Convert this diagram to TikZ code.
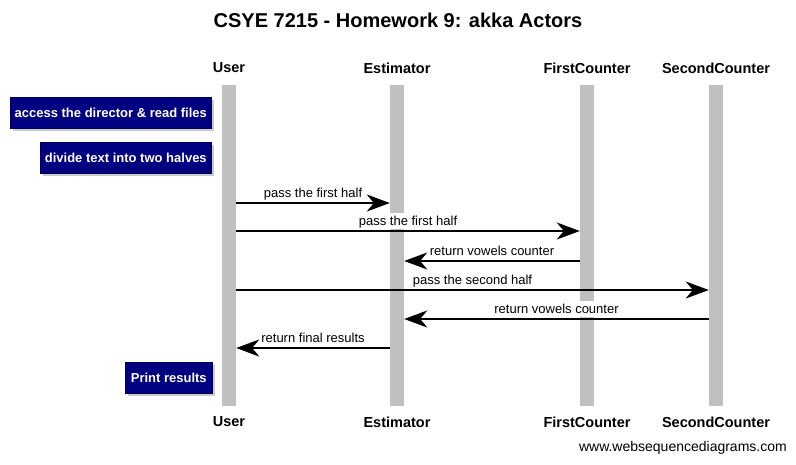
\documentclass[tikz,border=0pt]{standalone}
\usepackage{fontspec}
\setmainfont{Liberation Sans}
\usetikzlibrary{arrows.meta,shadows,calc}
\definecolor{lifegray}{HTML}{C0C0C0}
\definecolor{notenavy}{HTML}{000080}
\tikzset{
  lifebar/.style={fill=lifegray, draw=none, minimum width=14pt, minimum height=321pt, inner sep=0pt, anchor=north},
  actor/.style={font=\fontsize{14.5}{16}\selectfont\bfseries, inner sep=0pt},
  msg/.style={line width=1.7pt, -{Stealth[length=23pt,width=17pt,inset=7pt]}},
  msglabel/.style={font=\fontsize{13}{15}\selectfont, fill=white, inner sep=1pt, text height=11pt, text depth=3pt, anchor=south, yshift=0.9pt},
  notebox/.style={fill=notenavy, draw=notenavy!70!black, line width=0.6pt, text=white,
     font=\fontsize{13}{15}\selectfont\bfseries, inner sep=0pt, minimum height=31pt, anchor=north west,
     drop shadow={shadow xshift=2.5pt, shadow yshift=-2.5pt, fill=black!40}},
}
\begin{document}
\begin{tikzpicture}[x=1pt,y=-1pt]
\useasboundingbox[fill=white] (0,0) rectangle (796,464);
% title
\node[font=\fontsize{20}{24}\selectfont\bfseries, inner sep=0pt] (title) at (398,20) {CSYE 7215 - Homework 9: akka Actors};
% participants top
\node[actor] (userT) at (229,68) {User};
\node[actor] (estT) at (397,68) {Estimator};
\node[actor] (fcT) at (587,68) {FirstCounter};
\node[actor] (scT) at (716,68) {SecondCounter};
% participants bottom
\node[actor] (userB) at (229,422) {User};
\node[actor] (estB) at (397,422) {Estimator};
\node[actor] (fcB) at (587,422) {FirstCounter};
\node[actor] (scB) at (716,422) {SecondCounter};
% lifelines
\node[lifebar] (ubar) at (229,85) {};
\node[lifebar] (ebar) at (397,85) {};
\node[lifebar] (fbar) at (587,85) {};
\node[lifebar] (sbar) at (716,85) {};
% notes
\node[notebox, minimum width=201pt] (n1) at (10,97) {access the director \& read files};
\node[notebox, minimum width=171pt] (n2) at (40,142) {divide text into two halves};
\node[notebox, minimum width=87pt] (n3) at (125,362) {Print results};
% message rows
\coordinate (m1) at (0,203);
\coordinate (m2) at (0,231);
\coordinate (m3) at (0,261);
\coordinate (m4) at (0,290);
\coordinate (m5) at (0,319);
\coordinate (m6) at (0,348);
% messages
\draw[msg] (ubar.east |- m1) -- node[msglabel] (l1) {pass the first half} (ebar.west |- m1);
\draw[msg] (ubar.east |- m2) -- node[msglabel] (l2) {pass the first half} (fbar.west |- m2);
\draw[msg] (fbar.west |- m3) -- node[msglabel] (l3) {return vowels counter} (ebar.east |- m3);
\draw[msg] (ubar.east |- m4) -- node[msglabel] (l4) {pass the second half} (sbar.west |- m4);
\draw[msg] (sbar.west |- m5) -- node[msglabel] (l5) {return vowels counter} (ebar.east |- m5);
\draw[msg] (ebar.west |- m6) -- node[msglabel] (l6) {return final results} (ubar.east |- m6);
% watermark
\node[font=\fontsize{14}{16}\selectfont, inner sep=0pt, anchor=east] (wm) at (787,448) {www.websequencediagrams.com};
\end{tikzpicture}
\end{document}
